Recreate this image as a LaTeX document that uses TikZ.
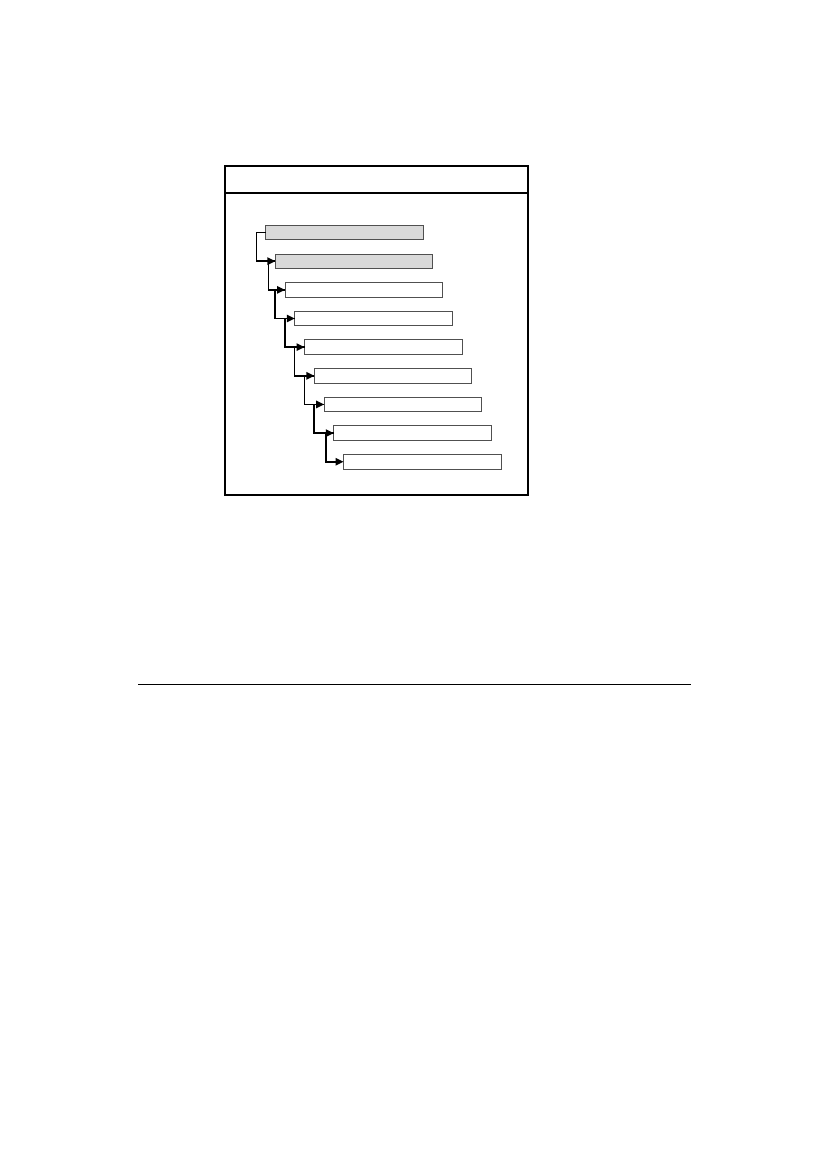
\documentclass[tikz,border=0pt]{standalone}
\usepackage{tikz}
\usetikzlibrary{arrows.meta}
\definecolor{shade}{RGB}{217, 217, 217}
\definecolor{edge}{RGB}{80, 80, 80}

\begin{document}
\begin{tikzpicture}[x=1pt, y=-1pt,
  bar/.style={draw=edge, line width=0.9pt, fill=white, minimum width=157.5pt,
    minimum height=14.5pt, inner sep=0pt, outer sep=0pt},
  link/.style={line width=1.5pt, -{Triangle[length=8pt,width=7.5pt]}}]
  \fill[white] (0, 0) rectangle (827, 1169);

  \draw[line width=1.2pt] (225, 166) rectangle (528, 495);
  \draw[line width=1.8pt] (225, 193) -- (528, 193);

  \node[bar, fill=shade] (b1) at (344.25, 232.55) {};
  \node[bar, fill=shade] (b2) at (354.00, 261.20) {};
  \node[bar] (b3) at (363.75, 289.85) {};
  \node[bar] (b4) at (373.50, 318.50) {};
  \node[bar] (b5) at (383.25, 347.15) {};
  \node[bar] (b6) at (393.00, 375.80) {};
  \node[bar] (b7) at (402.75, 404.45) {};
  \node[bar] (b8) at (412.50, 433.10) {};
  \node[bar] (b9) at (422.25, 461.75) {};

  \draw[link] (b1.west) -- ++(-9, 0) |- (b2.west);
  \draw[link] (b2.west) -- ++(-7, 0) |- (b3.west);
  \draw[link] (b3.west) -- ++(-10, 0) |- (b4.west);
  \draw[link] (b4.west) -- ++(-10, 0) |- (b5.west);
  \draw[link] (b5.west) -- ++(-10, 0) |- (b6.west);
  \draw[link] (b6.west) -- ++(-10, 0) |- (b7.west);
  \draw[link] (b7.west) -- ++(-10, 0) |- (b8.west);
  \draw[link] (b8.west) -- ++(-8, 0) |- (b9.west);

  \draw[line width=1pt] (138, 684) -- (691, 684);
\end{tikzpicture}
\end{document}
